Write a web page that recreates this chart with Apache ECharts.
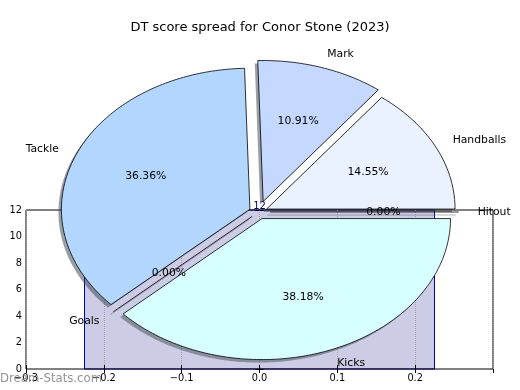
<!DOCTYPE html>
<html><head><meta charset="utf-8">
<script src="https://cdn.jsdelivr.net/npm/echarts@6/dist/echarts.min.js"></script>
<style>html,body{margin:0;padding:0;background:#fff}#c{width:520px;height:390px}</style>
</head><body><div id="c"></div>
<script>
// ---- data ----
const sliceLabels = ['Handballs', 'Mark', 'Tackle', 'Goals', 'Kicks', 'Hitout'];
const sliceValues = [8, 6, 20, 0, 21, 0];
const barPositions = [0];
const barValues = [12];
const barWidth = 0.45;
const titleText = 'DT score spread for Conor Stone (2023)';
const watermarkText = 'Dream-Stats.com';

// ---- styling / layout ----
const FONT = 'DejaVu Sans';
const sliceColors = ['#eaf1ff', '#c5d8ff', '#b3d6ff', '#ffffff', '#d8ffff', '#ffffff'];
const sliceExplode = [0.047, 0.078, 0.05, 0.046, 0.05, 0.062];
const PIE = { cx: 258.6, cy: 212, rx: 188.5, ry: 141, labelDist: 1.1, pctDist: 0.6, sdx: -3, sdy: 3 };

function hexToRgb(h) {
  const n = parseInt(h.slice(1), 16);
  return [(n >> 16) & 255, (n >> 8) & 255, n & 255];
}
function shadowColor(h) {
  const c = hexToRgb(h).map(v => Math.round(v * 0.3));
  return 'rgba(' + c.join(',') + ',0.5)';
}

const total = sliceValues.reduce((a, b) => a + b, 0);

function renderPie(params, api) {
  const i = params.dataIndex;
  let start = 0;
  for (let j = 0; j < i; j++) start += sliceValues[j] / total * 360;
  const sweep = sliceValues[i] / total * 360;
  const mid = (start + sweep / 2) * Math.PI / 180;
  const e = sliceExplode[i];
  const ox = PIE.cx + e * PIE.rx * Math.cos(mid);
  const oy = PIE.cy - e * PIE.ry * Math.sin(mid);
  const pts = [[ox, oy]];
  const n = Math.max(1, Math.ceil(sweep / 1));
  for (let k = 0; k <= n; k++) {
    const a = (start + sweep * k / n) * Math.PI / 180;
    pts.push([ox + PIE.rx * Math.cos(a), oy - PIE.ry * Math.sin(a)]);
  }
  const shPts = pts.map(p => [p[0] + PIE.sdx, p[1] + PIE.sdy]);
  const children = [];
  if (sweep > 0) {
    children.push({ type: 'polygon', z2: 0, shape: { points: shPts }, style: { fill: shadowColor(sliceColors[i]), stroke: null } });
    children.push({ type: 'polygon', z2: 5, shape: { points: pts }, style: { fill: sliceColors[i], stroke: '#000', lineWidth: 0.8 } });
  } else {
    const line = [pts[0], pts[pts.length - 1]];
    children.push({ type: 'polyline', z2: 0, shape: { points: line.map(p => [p[0] + PIE.sdx, p[1] + PIE.sdy]) }, style: { stroke: 'rgba(77,77,77,0.5)', fill: null, lineWidth: 0.8 } });
    children.push({ type: 'polyline', z2: 5, shape: { points: line }, style: { stroke: '#000', fill: null, lineWidth: 0.8 } });
  }
  const lx = ox + PIE.labelDist * PIE.rx * Math.cos(mid);
  const ly = oy - PIE.labelDist * PIE.ry * Math.sin(mid);
  const leftSide = (lx - PIE.cx) < 0;
  children.push({ type: 'text', z2: 10, x: lx, y: ly, style: { text: sliceLabels[i], fill: '#000', fontSize: 10.8, fontFamily: FONT, align: leftSide ? 'right' : 'left', verticalAlign: 'middle' } });
  const px = ox + PIE.pctDist * PIE.rx * Math.cos(mid);
  const py = oy - PIE.pctDist * PIE.ry * Math.sin(mid);
  children.push({ type: 'text', z2: 10, x: px, y: py, style: { text: (sliceValues[i] / total * 100).toFixed(2) + '%', fill: '#000', fontSize: 10.8, fontFamily: FONT, align: 'center', verticalAlign: 'middle' } });
  return { type: 'group', children: children };
}

function renderBar(params, api) {
  const xv = api.value(0), yv = api.value(1);
  const tl = api.coord([xv - barWidth / 2, yv]);
  const br = api.coord([xv + barWidth / 2, 0]);
  return { type: 'group', children: [
    { type: 'rect', shape: { x: Math.round(tl[0]) + 0.5, y: tl[1], width: Math.round(br[0] - tl[0]), height: br[1] - tl[1] }, style: { fill: '#ccccE6', stroke: '#0000b0', lineWidth: 1 } },
    { type: 'text', x: (tl[0] + br[0]) / 2, y: tl[1] + 1, style: { text: String(yv), fill: '#000080', fontSize: 10, fontFamily: FONT, align: 'center', verticalAlign: 'bottom' } }
  ] };
}

const xFmt = v => {
  const r = Math.round(v * 10) / 10;
  return (r < 0 ? '\u2212' : '') + Math.abs(r).toFixed(1);
};

const tickStyle = { inside: true, length: 4, lineStyle: { color: '#000', width: 1 } };
const labelStyle = { fontSize: 9.8, fontFamily: FONT, color: '#000' };

const chart = echarts.init(document.getElementById('c'), null, { renderer: 'canvas' });
chart.setOption({
  animation: false,
  backgroundColor: '#fff',
  title: { text: titleText, left: 'center', top: 15, textStyle: { fontSize: 13, fontWeight: 'normal', fontFamily: FONT, color: '#000', lineHeight: 16 } },
  grid: { left: 26, right: 27, top: 210, bottom: 21, show: true, borderColor: '#000', borderWidth: 1, backgroundColor: 'transparent', z: 3 },
  xAxis: [
    { type: 'value', min: -0.3, max: 0.3, interval: 0.1, position: 'bottom', z: 3,
      axisLine: { show: false }, axisTick: tickStyle,
      axisLabel: Object.assign({ margin: 4, formatter: xFmt, showMaxLabel: false }, labelStyle),
      splitLine: { show: true, lineStyle: { type: 'dotted', color: '#a0a0a8', width: 1 } } },
    { type: 'value', min: -0.3, max: 0.3, interval: 0.1, position: 'top', z: 3,
      axisLine: { show: false }, axisTick: tickStyle, axisLabel: { show: false }, splitLine: { show: false } }
  ],
  yAxis: [
    { type: 'value', min: 0, max: 12, interval: 2, position: 'left', z: 3,
      axisLine: { show: false }, axisTick: tickStyle,
      axisLabel: Object.assign({ margin: 4 }, labelStyle), splitLine: { show: false } },
    { type: 'value', min: 0, max: 12, interval: 2, position: 'right', z: 3,
      axisLine: { show: false }, axisTick: tickStyle, axisLabel: { show: false }, splitLine: { show: false } }
  ],
  graphic: [
    { type: 'text', x: 0, y: 379, z: 100, style: { text: watermarkText, fill: 'rgba(120,120,120,0.8)', fontSize: 11.7, fontFamily: FONT, align: 'left', verticalAlign: 'middle' } }
  ],
  series: [
    { type: 'custom', name: 'bar', coordinateSystem: 'cartesian2d', xAxisIndex: 0, yAxisIndex: 0, z: 1,
      renderItem: renderBar, data: barPositions.map((x, i) => [x, barValues[i]]), encode: { x: 0, y: 1 }, clip: false },
    { type: 'custom', name: 'pie', coordinateSystem: 'none', z: 10,
      renderItem: renderPie, data: sliceValues.map(v => [v]) }
  ]
});
</script>
</body></html>
